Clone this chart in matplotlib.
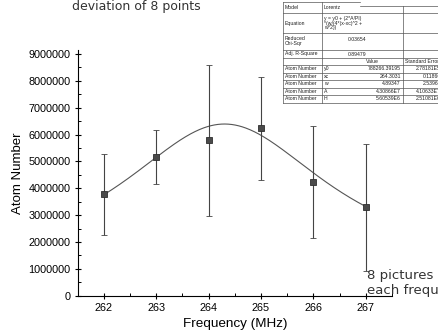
import numpy as np
import matplotlib

matplotlib.use("Agg")
import matplotlib.pyplot as plt
from matplotlib.ticker import MultipleLocator

plt.rcParams["font.family"] = ["Liberation Sans", "DejaVu Sans"]

# measured atom number vs trap frequency (mean and std dev of 8 pictures)
freq = [262, 263, 264, 265, 266, 267]
atoms = [3770000, 5160000, 5780000, 6230000, 4240000, 3290000]
atoms_err = [1520000, 1000000, 2815000, 1930000, 2090000, 2360000]

# Lorentz fit parameters, as printed in the fit table
y0, xc, w, A, H = 788266.39195, 264.3031, 4.89347, 4.30866e7, 5.60539e6
param_names = ["y0", "xc", "w", "A", "H"]
param_values = ["788266.39195", "264.3031", "4.89347", "4.30866E7", "5.60539E6"]
param_errors = ["2.78181E5", "0.11866", "2.53966", "4.10633E7", "2.51081E6"]
chi_sqr = "0.03654"
adj_r2 = "0.89479"

xticks = [262, 263, 264, 265, 266, 267]
yticks = [0, 1000000, 2000000, 3000000, 4000000, 5000000, 6000000, 7000000, 8000000, 9000000]

W, Hpx = 438, 335
fig = plt.figure(figsize=(W / 100, Hpx / 100), dpi=100)
ax = fig.add_axes([77.7 / W, 1 - 295.7 / Hpx, (392 - 77.7) / W, (295.7 - 50) / Hpx])

xs = np.linspace(freq[0], freq[-1], 300)
fit = y0 + (2 * A / np.pi) * (w / (4 * (xs - xc) ** 2 + w ** 2))
ax.plot(xs, fit, color="#555555", lw=0.8, zorder=2)
ax.errorbar(freq, atoms, yerr=atoms_err, fmt="s", ms=5, mfc="#4a4a4a", mec="#2e2e2e",
            mew=0.6, ecolor="#444444", elinewidth=0.8, capsize=2.3, capthick=0.8, zorder=3)

ax.set_xlim(261.5, 267.5)
ax.set_ylim(0, 9150000)
ax.set_xticks(xticks)
ax.set_yticks(yticks)
ax.set_yticklabels([str(v) for v in yticks])
ax.xaxis.set_minor_locator(MultipleLocator(0.5))
ax.yaxis.set_minor_locator(MultipleLocator(500000))
for s in ("top", "right"):
    ax.spines[s].set_visible(False)
for s in ("left", "bottom"):
    ax.spines[s].set_linewidth(0.8)
ax.tick_params(which="major", direction="inout", length=5, width=0.8, labelsize=7.8, pad=2.5)
ax.tick_params(which="minor", direction="in", length=2.5, width=0.7)
ax.set_xlabel("Frequency (MHz)", fontsize=9.7, labelpad=4)
ax.set_ylabel("Atom Number", fontsize=9.5, labelpad=3)

# fit results table, drawn in pixel coordinates
tab = fig.add_axes([0, 0, 1, 1], zorder=5)
tab.set_xlim(0, W)
tab.set_ylim(Hpx, 0)
tab.axis("off")
tab.patch.set_alpha(0)
cols = [283, 322, 403, 460]
rows = [2, 13, 33, 50, 58, 65, 72.5, 80, 87.5, 95, 102.5]
tab.add_patch(plt.Rectangle((cols[0], rows[0]), cols[-1] - cols[0], rows[-1] - rows[0],
                            fc="white", ec="none"))
lc = dict(color="#555555", lw=0.5)
tab.plot([cols[0], 360], [rows[0], rows[0]], **lc)
tab.plot([360, cols[-1]], [6, 6], **lc)
for r in rows[1:]:
    tab.plot([cols[0], cols[-1]], [r, r], **lc)
for c in cols[:3]:
    tab.plot([c, c], [rows[0] if c < 360 else 6, rows[-1]], **lc)

fs = 3.7
mid = [(rows[i] + rows[i + 1]) / 2 for i in range(len(rows) - 1)]
tk = dict(fontsize=fs, va="center", color="#222222")
tab.text(285, mid[0], "Model", ha="left", **tk)
tab.text(324, mid[0], "Lorentz", ha="left", **tk)
tab.text(285, mid[1], "Equation", ha="left", **tk)
tab.text(324, mid[1], "y = y0 + (2*A/PI)\n*(w/(4*(x-xc)^2 +\nw^2))", ha="left",
         linespacing=0.9, **tk)
tab.text(285, mid[2], "Reduced\nChi-Sqr", ha="left", linespacing=1.0, **tk)
tab.text(366, mid[2] - 2, chi_sqr, ha="right", **tk)
tab.text(285, mid[3], "Adj. R-Square", ha="left", **tk)
tab.text(366, mid[3], adj_r2, ha="right", **tk)
tab.text(372, mid[4], "Value", ha="center", **tk)
tab.text(405, mid[4], "Standard Error", ha="left", **tk)
for i in range(5):
    yy = mid[5 + i]
    tab.text(285, yy, "Atom Number", ha="left", **tk)
    tab.text(324, yy, param_names[i], ha="left", **tk)
    tab.text(401, yy, param_values[i], ha="right", **tk)
    tab.text(441, yy, param_errors[i], ha="right", **tk)

# handwritten notes on the printout
hw = dict(family="DejaVu Sans", color="#333333", va="baseline", ha="left")
fig.text(72 / W, 1 - 10 / Hpx, "deviation of 8 points", fontsize=9, **hw)
fig.text(367 / W, 1 - 279 / Hpx, "8 pictures of", fontsize=9.5, **hw)
fig.text(367 / W, 1 - 294 / Hpx, "each frequency", fontsize=9.5, **hw)

fig.savefig("out.png", dpi=100)
